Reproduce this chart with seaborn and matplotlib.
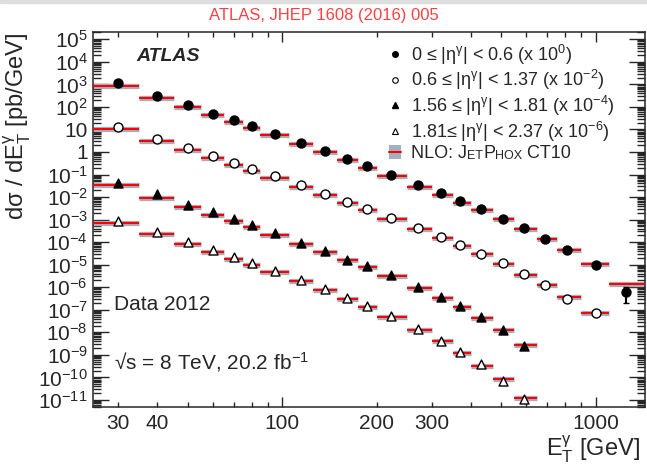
import matplotlib
matplotlib.use("Agg")
import matplotlib.pyplot as plt
import seaborn as sns
import numpy as np
import pandas as pd
from matplotlib.lines import Line2D
from matplotlib.patches import Patch, Rectangle
from matplotlib.legend_handler import HandlerTuple
from matplotlib.ticker import FixedLocator, FuncFormatter, LogLocator

# isolated photon cross sections, 8 TeV (values as published, scale applied below)
et_edges = [25, 35, 45, 55, 65, 75, 85, 105, 125, 150, 175, 200, 250, 300,
            350, 400, 470, 550, 650, 750, 900, 1100, 1500]
et_points = [30, 40, 50, 60, 70, 80, 95, 115, 137, 161, 187, 222, 272, 322,
             370, 430, 505, 590, 690, 810, 1000, 1250]

data_eta1 = [1117, 296, 118, 50, 26.3, 13.8, 6.3, 2.57, 1.14, 0.49, 0.24, 0.095,
             0.0344, 0.0148, 0.0068, 0.0029, 0.0011, 4.1e-4, 1.43e-4, 4.5e-5,
             9.8e-6, 6.0e-7]
nlo_eta1 = [850, 256, 99, 42.5, 20.8, 11.2, 5.7, 2.26, 0.97, 0.43, 0.20, 0.086,
            0.0288, 0.0120, 0.0056, 0.00257, 0.00102, 3.7e-4, 1.43e-4, 4.7e-5,
            1.07e-5, 1.38e-6]
data_eta2 = [1318, 378, 146, 66.4, 32.4, 18.2, 8.3, 3.31, 1.38, 0.596, 0.305,
             0.122, 0.0437, 0.0170, 0.00724, 0.00309, 0.00120, 3.9e-4, 1.26e-4,
             2.9e-5, 7.4e-6]
nlo_eta2 = [1072, 316, 123, 56.2, 27.2, 14.8, 7.24, 2.82, 1.23, 0.519, 0.257,
            0.107, 0.0380, 0.0153, 0.00676, 0.00288, 0.00107, 3.6e-4, 1.23e-4,
            3.5e-5, 6.9e-6]
data_eta3 = [407, 132, 46.2, 20.7, 10.2, 5.5, 2.45, 0.955, 0.417, 0.168, 0.087,
             0.0339, 0.0105, 0.00355, 0.00148, 4.8e-4, 1.23e-4, 2.57e-5]
nlo_eta3 = [331, 93, 37.2, 16.6, 8.3, 4.47, 2.14, 0.85, 0.363, 0.155, 0.079,
            0.0302, 0.0093, 0.00324, 0.00132, 4.4e-4, 1.32e-4, 2.75e-5]
data_eta4 = [891, 275, 97.7, 44.7, 21.9, 12.0, 5.25, 2.04, 0.87, 0.324, 0.151,
             0.055, 0.0141, 0.00427, 0.00135, 3.8e-4, 7.1e-5, 1.15e-5]
nlo_eta4 = [724, 224, 81.3, 36.3, 17.8, 10.0, 4.57, 1.82, 0.724, 0.292, 0.132,
            0.049, 0.0126, 0.00417, 0.00126, 3.2e-4, 8.1e-5, 1.17e-5]
scales = [1, 1e-2, 1e-4, 1e-6]

# only the last central point has a visible error bar
last_err_dn, last_err_up = 4.0e-7, 4.5e-7

labels = ["0 ≤ |η$^γ$| < 0.6 (x 10$^0$)",
          "0.6 ≤ |η$^γ$| < 1.37 (x 10$^{-2}$)",
          "1.56 ≤ |η$^γ$| < 1.81 (x 10$^{-4}$)",
          "1.81≤ |η$^γ$| < 2.37 (x 10$^{-6}$)"]

sns.set_style("ticks")
plt.rcParams['font.family'] = ['Liberation Sans', 'DejaVu Sans']
plt.rcParams['mathtext.default'] = 'regular'

band_gray = '#a3b1bf'
markers = [('o', 'black'), ('o', 'white'), ('^', 'black'), ('^', 'white')]

fig = plt.figure(figsize=(6.47, 4.68), dpi=100)
ax = fig.add_axes([0.1445, 0.131, 0.853, 0.80])

series = [(data_eta1, nlo_eta1), (data_eta2, nlo_eta2),
          (data_eta3, nlo_eta3), (data_eta4, nlo_eta4)]
for (dat, nlo), sc, (mk, fc) in zip(series, scales, markers):
    n = len(dat)
    y_nlo = np.array(nlo) * sc
    ax.hlines(y_nlo, et_edges[:n], et_edges[1:n + 1], color=band_gray, lw=3.8, zorder=2)
    ax.hlines(y_nlo, et_edges[:n], et_edges[1:n + 1], color='red', lw=1.5, zorder=3)
    df = pd.DataFrame({'et': et_points[:n], 'xs': np.array(dat) * sc})
    sns.scatterplot(data=df, x='et', y='xs', marker=mk, s=42, color=fc,
                    edgecolor='black', linewidth=1, ax=ax, zorder=4, legend=False)

ax.errorbar(et_points[-1], data_eta1[-1], yerr=[[last_err_dn], [last_err_up]],
            fmt='none', ecolor='black', elinewidth=1.5, capsize=2, zorder=3)

ax.set_xscale('log')
ax.set_yscale('log')
ax.set_xlim(25, 1440)
ax.set_ylim(5e-12, 2.04e5)

ax.xaxis.set_major_locator(FixedLocator([100, 1000]))
ax.xaxis.set_minor_locator(FixedLocator([30, 40, 50, 60, 70, 80, 90, 200, 300,
                                         400, 500, 600, 700, 800, 900]))
ax.xaxis.set_major_formatter(FuncFormatter(lambda v, p: f"{v:.0f}"))
ax.xaxis.set_minor_formatter(FuncFormatter(
    lambda v, p: f"{v:.0f}" if round(v) in (30, 40, 200, 300) else ""))


def ylab(v, p):
    e = int(round(np.log10(v)))
    if e == 0:
        return "1"
    if e == 1:
        return "10"
    return f"$10^{{{e}}}$"


ax.yaxis.set_major_locator(LogLocator(base=10, numticks=40))
ax.yaxis.set_minor_locator(LogLocator(base=10, subs=np.arange(2, 10), numticks=40))
ax.yaxis.set_major_formatter(FuncFormatter(ylab))

ax.tick_params(which='both', direction='in', top=True, right=True, labelsize=15, width=1)
ax.tick_params(axis='y', which='major', length=11.5, pad=4)
ax.tick_params(axis='y', which='minor', length=5.5)
ax.tick_params(axis='x', which='major', length=7, pad=5)
ax.tick_params(axis='x', which='minor', length=3.6, pad=5)
for sp in ax.spines.values():
    sp.set_linewidth(1.1)

ax.set_ylabel("dσ / dE$_T^γ$ [pb/GeV]", fontsize=17, loc='top')
ax.set_xlabel("E$_T^γ$ [GeV]", fontsize=17, loc='right')
ax.xaxis.set_label_coords(0.99, -0.072)

# legend
handles = [Line2D([], [], marker='o', ls='none', mfc='black', mec='black', ms=4),
           Line2D([], [], marker='o', ls='none', mfc='white', mec='black', ms=4, mew=0.8),
           Line2D([], [], marker='^', ls='none', mfc='black', mec='black', ms=4),
           Line2D([], [], marker='^', ls='none', mfc='white', mec='black', ms=4, mew=0.8),
           (Patch(fc=band_gray, ec='none'), Line2D([], [], color='red', lw=1.5))]
leg = ax.legend(handles, labels + ["NLO: J"], loc='upper left',
                bbox_to_anchor=(0.535, 0.972), frameon=False, fontsize=13,
                labelspacing=0.08, handlelength=0.7, handleheight=0.8,
                handletextpad=0.55, borderpad=0, borderaxespad=0,
                handler_map={tuple: HandlerTuple(ndivide=1)})
prev = leg.get_texts()[-1]
for s, fs in [("ET", 9), ("P", 13), ("HOX", 9), (" CT10", 13)]:
    prev = ax.annotate(s, xy=(1, 0), xycoords=prev, va='bottom', ha='left',
                       fontsize=fs, zorder=6, annotation_clip=False)

ax.text(0.077, 0.935, "ATLAS", transform=ax.transAxes, fontsize=14,
        fontweight='bold', fontstyle='italic', va='center')
ax.text(0.037, 0.272, "Data 2012", transform=ax.transAxes, fontsize=15, va='center')
ax.text(0.037, 0.119, "√s = 8 TeV, 20.2 fb$^{-1}$", transform=ax.transAxes,
        fontsize=15, va='center')

fig.patches.append(Rectangle((0, 1 - 3 / 468), 1, 3 / 468, transform=fig.transFigure,
                             color='#dddddd', zorder=0))
fig.text(0.5, 0.967, "ATLAS, JHEP 1608 (2016) 005", color='#ff4040',
         fontsize=12, ha='center', va='center')

fig.savefig("out.png", dpi=100)
